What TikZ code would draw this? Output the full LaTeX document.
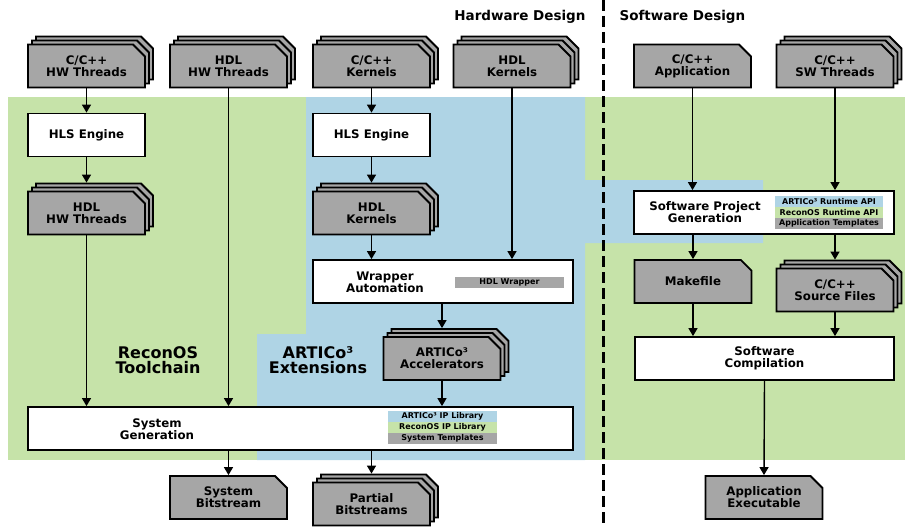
\documentclass[tikz,border=0pt]{standalone}
\usepackage{fontspec}
\setmainfont{DejaVu Sans}
\usetikzlibrary{arrows.meta,positioning,shapes.misc,shadows}
\definecolor{FlowGreen}{HTML}{C6E3A9}
\definecolor{FlowBlue}{HTML}{AFD4E5}
\definecolor{FlowGray}{HTML}{A6A6A6}

\begin{document}
\begin{tikzpicture}[x=1pt,y=-1pt]
    \tikzset{
      boxtext/.style={align=center,inner sep=0pt,font=\fontsize{11.8}{12}\selectfont\bfseries},
      procbox/.style={boxtext,draw,line width=1.8pt,fill=white,minimum height=43pt},
      docbox/.style={boxtext,chamfered rectangle,chamfered rectangle corners=north east,
        chamfered rectangle sep=6pt,draw,line width=1.8pt,fill=FlowGray,
        minimum width=117pt,minimum height=43pt},
      docstack/.style={docbox,
        copy shadow={shadow xshift=8pt,shadow yshift=8pt,draw,fill=FlowGray,line width=1.8pt},
        copy shadow={shadow xshift=4pt,shadow yshift=4pt,draw,fill=FlowGray,line width=1.8pt}},
      libtag/.style={minimum width=109pt,minimum height=11pt,inner sep=0pt,
        font=\fontsize{8}{8}\selectfont\bfseries},
      flow/.style={line width=1.4pt,-{Triangle[length=8pt,width=9pt]}},
      regionlbl/.style={align=center,font=\fontsize{16}{15.5}\selectfont\bfseries},
      sidelbl/.style={font=\fontsize{13.5}{14}\selectfont\bfseries}}
    \useasboundingbox (0,0) rectangle (910,527);
    \fill[FlowGreen] (8,97) rectangle (905,460);
    \fill[FlowBlue] (306,97) -- (585,97) -- (585,180) -- (763,180) -- (763,243) -- (585,243)
      -- (585,460) -- (257,460) -- (257,334) -- (306,334) -- cycle;
    \draw[line width=3.5pt,dash pattern=on 11pt off 5pt] (603.5,0) -- (603.5,527);
    \node[sidelbl,anchor=east] (hwdes) at (589,17) {Hardware Design};
    \node[sidelbl,anchor=west] (swdes) at (616,17) {Software Design};
    \node[docstack] (hwc) at (86.5,66) {C/C++\\HW Threads};
    \node[docstack] (hwhdl) at (228.5,66) {HDL\\HW Threads};
    \node[docstack] (kc) at (371.5,66) {C/C++\\Kernels};
    \node[docstack] (khdl) at (512,66) {HDL\\Kernels};
    \node[docbox] (app) at (692.5,66) {C/C++\\Application};
    \node[docstack] (swc) at (835,66) {C/C++\\SW Threads};
    \node[procbox,minimum width=117pt] (hlsa) at (86.5,135) {HLS Engine};
    \node[procbox,minimum width=117pt] (hlsb) at (371.5,135) {HLS Engine};
    \node[docstack] (hwgen) at (86.5,213) {HDL\\HW Threads};
    \node[docstack] (kgen) at (371.5,213) {HDL\\Kernels};
    \node[procbox,minimum width=260pt] (wrap) at (443,281.5) {};
    \node[boxtext] (wraplbl) at (385,282) {Wrapper\\Automation};
    \node[libtag,fill=FlowGray] (wraptag) at (509.5,282) {HDL Wrapper};
    \node[docstack] (acc) at (442,358.5) {ARTICo³\\Accelerators};
    \node[regionlbl] (recon) at (158,360) {ReconOS\\Toolchain};
    \node[regionlbl] (artico) at (318,360) {ARTICo³\\Extensions};
    \node[procbox,minimum width=545pt] (sysgen) at (300.5,428.5) {};
    \node[boxtext] (sysgenlbl) at (157,429) {System\\Generation};
    \node[libtag,fill=FlowBlue] (iplib) at (442.5,416.5) {ARTICo³ IP Library};
    \node[libtag,fill=FlowGreen] (reclib) at (442.5,427.5) {ReconOS IP Library};
    \node[libtag,fill=FlowGray] (systpl) at (442.5,438.5) {System Templates};
    \node[docbox] (sysbit) at (228.5,497.5) {System\\Bitstream};
    \node[docstack] (partbit) at (371.5,504) {Partial\\Bitstreams};
    \node[procbox,minimum width=260pt] (spg) at (764,212.5) {};
    \node[boxtext] (spglbl) at (705,212.5) {Software Project\\Generation};
    \node[libtag,minimum width=108pt,fill=FlowBlue] (rtapi) at (829,201.5) {ARTICo³ Runtime API};
    \node[libtag,minimum width=108pt,fill=FlowGreen] (recapi) at (829,212.5) {ReconOS Runtime API};
    \node[libtag,minimum width=108pt,fill=FlowGray] (apptpl) at (829,223.5) {Application Templates};
    \node[docbox] (make) at (693,281.5) {Makefile};
    \node[docstack] (srcf) at (835,290) {C/C++\\Source Files};
    \node[procbox,minimum width=259pt] (swcomp) at (764.5,358.5) {Software\\Compilation};
    \node[docbox] (appexe) at (764,497.5) {Application\\Executable};
    \draw[flow] (hwc.south) -- (hlsa.north);
    \draw[flow] (hlsa.south) -- ([yshift=8pt]hwgen.north);
    \draw[flow] (hwgen.south) -- (hwgen.south |- sysgen.north);
    \draw[flow] (hwhdl.south) -- (hwhdl.south |- sysgen.north);
    \draw[flow] (kc.south) -- (hlsb.north);
    \draw[flow] (hlsb.south) -- ([yshift=8pt]kgen.north);
    \draw[flow] (kgen.south) -- (kgen.south |- wrap.north);
    \draw[flow] (khdl.south) -- (khdl.south |- wrap.north);
    \draw[flow] (acc.north |- wrap.south) -- ([yshift=8pt]acc.north);
    \draw[flow] (acc.south) -- (acc.south |- sysgen.north);
    \draw[flow] (sysbit.north |- sysgen.south) -- (sysbit.north);
    \draw[flow] (partbit.north |- sysgen.south) -- ([yshift=8pt]partbit.north);
    \draw[flow] (app.south) -- (app.south |- spg.north);
    \draw[flow] (swc.south) -- (swc.south |- spg.north);
    \draw[flow] (make.north |- spg.south) -- (make.north);
    \draw[flow] (srcf.north |- spg.south) -- ([yshift=8pt]srcf.north);
    \draw[flow] (make.south) -- (make.south |- swcomp.north);
    \draw[flow] (srcf.south) -- (srcf.south |- swcomp.north);
    \draw[flow] (swcomp.south) -- (appexe.north);
\end{tikzpicture}
\end{document}
